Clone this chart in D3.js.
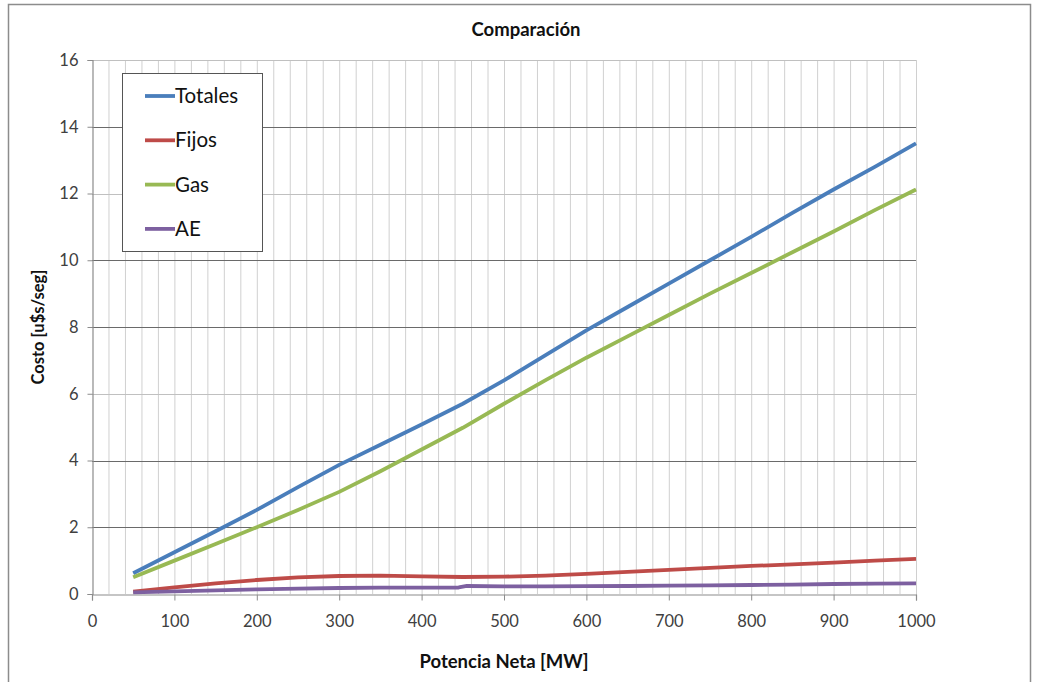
<!DOCTYPE html>
<html>
<head>
<meta charset="utf-8">
<script src="https://cdn.jsdelivr.net/npm/d3@7/dist/d3.min.js"></script>
<style>
  html, body { margin: 0; padding: 0; background: #fff; }
  svg { display: block; font-family: Lato, "Open Sans", "Liberation Sans", sans-serif; }
</style>
</head>
<body>
<svg id="chart" width="1038" height="682"></svg>
<script>
// ---- data ----
const mw = [50,100,150,200,250,300,350,400,450,500,550,600,650,700,750,800,850,900,950,1000];
const totales = [0.62,1.25,1.88,2.52,3.2,3.87,4.47,5.08,5.7,6.4,7.15,7.9,8.6,9.3,10.0,10.7,11.42,12.12,12.8,13.5];
const fijos   = [0.07,0.2,0.32,0.42,0.5,0.54,0.55,0.53,0.51,0.52,0.55,0.6,0.66,0.72,0.78,0.84,0.89,0.94,1.0,1.05];
const gas     = [0.5,1.0,1.5,2.0,2.52,3.06,3.68,4.33,4.98,5.7,6.4,7.08,7.72,8.36,9.0,9.62,10.24,10.86,11.5,12.12];
const mwAE    = [50,100,150,200,250,300,350,400,445,455,500,550,600,650,700,750,800,850,900,950,1000];
const ae      = [0.05,0.08,0.11,0.14,0.16,0.18,0.19,0.19,0.195,0.24,0.23,0.23,0.235,0.24,0.25,0.26,0.27,0.28,0.3,0.31,0.32];
const seriesNames = ["Totales","Fijos","Gas","AE"];
const xTicks = [0,100,200,300,400,500,600,700,800,900,1000];
const yTicks = [0,2,4,6,8,10,12,14,16];
const lightGrid = [6,12,16];

const colors = {Totales:"#4a7ebb", Fijos:"#be4b48", Gas:"#98b954", AE:"#7d60a0"};
const series = [
  {name:"Totales", xs:mw, ys:totales},
  {name:"Fijos", xs:mw, ys:fijos},
  {name:"Gas", xs:mw, ys:gas},
  {name:"AE", xs:mwAE, ys:ae}
];

const svg = d3.select("#chart");
const plot = {left:92, right:916, top:60, bottom:594};

// outer frame
svg.append("rect").attr("x",8.5).attr("y",4.5).attr("width",1022).attr("height",720)
  .attr("fill","#fff").attr("stroke","#8c8c8c").attr("stroke-width",1.5);

const x = d3.scaleLinear().domain([0,1000]).range([plot.left, plot.right]);
const y = d3.scaleLinear().domain([0,16]).range([plot.bottom, plot.top]);

// vertical minor grid every 20
const g = svg.append("g");
g.selectAll("line.vg").data(d3.range(20,1001,20)).join("line")
  .attr("x1",d=>x(d)+0.5).attr("x2",d=>x(d)+0.5)
  .attr("y1",plot.top).attr("y2",plot.bottom)
  .attr("stroke","#d0d0d0").attr("stroke-width",1);

// horizontal major grid
g.selectAll("line.hg").data(yTicks.filter(d=>d>0)).join("line")
  .attr("x1",plot.left).attr("x2",plot.right)
  .attr("y1",d=>Math.round(y(d))+0.5).attr("y2",d=>Math.round(y(d))+0.5)
  .attr("stroke",d=>lightGrid.includes(d)?"#c0c0c0":"#6a6a6a").attr("stroke-width",1.2);

// axes
const xAxis = d3.axisBottom(x).tickValues(xTicks).tickSize(6).tickPadding(15).tickFormat(d3.format("d"));
const yAxis = d3.axisLeft(y).tickValues(yTicks).tickSize(5).tickPadding(9).tickFormat(d3.format("d"));
const gx = svg.append("g").attr("transform",`translate(0,${plot.bottom+0.5})`).call(xAxis);
const gy = svg.append("g").attr("transform",`translate(${plot.left+0.5},0)`).call(yAxis);
[gx,gy].forEach(a=>{
  a.select(".domain").attr("stroke","#8c8c8c").attr("stroke-width",1.2);
  a.selectAll(".tick line").attr("stroke","#8c8c8c");
  a.selectAll(".tick text").attr("fill","#404040").attr("font-size",16.5)
    .attr("font-family","Lato, 'Open Sans', sans-serif");
});

// lines
const line = d3.line().x(d=>x(d[0])).y(d=>y(d[1]));
series.forEach(s=>{
  const pts = s.xs.map((v,i)=>[v,s.ys[i]]);
  svg.append("path").datum(pts).attr("d",line)
    .attr("fill","none").attr("stroke",colors[s.name]).attr("stroke-width",3.8)
    .attr("stroke-linejoin","round").attr("stroke-linecap","butt");
});

// title & axis labels
svg.append("text").attr("x",526).attr("y",36).attr("text-anchor","middle")
  .attr("font-size",18.5).attr("font-weight","bold").attr("fill","#111").text("Comparación");
svg.append("text").attr("x",504).attr("y",668).attr("text-anchor","middle")
  .attr("font-size",18.5).attr("font-weight","bold").attr("fill","#111").text("Potencia Neta [MW]");
svg.append("text").attr("transform","translate(44,327) rotate(-90)").attr("text-anchor","middle")
  .attr("font-size",16.5).attr("font-weight","bold").attr("fill","#111").text("Costo [u$s/seg]");

// legend
const lg = svg.append("g");
lg.append("rect").attr("x",122.5).attr("y",73.5).attr("width",140).attr("height",178)
  .attr("fill","#fff").attr("stroke","#555").attr("stroke-width",1);
seriesNames.forEach((n,i)=>{
  const yy = 96 + i*44.3;
  lg.append("line").attr("x1",145).attr("x2",175).attr("y1",yy).attr("y2",yy)
    .attr("stroke",colors[n]).attr("stroke-width",3.8);
  lg.append("text").attr("x",175).attr("y",yy+7).attr("font-size",20.5).attr("fill","#111").text(n);
});
</script>
</body>
</html>
